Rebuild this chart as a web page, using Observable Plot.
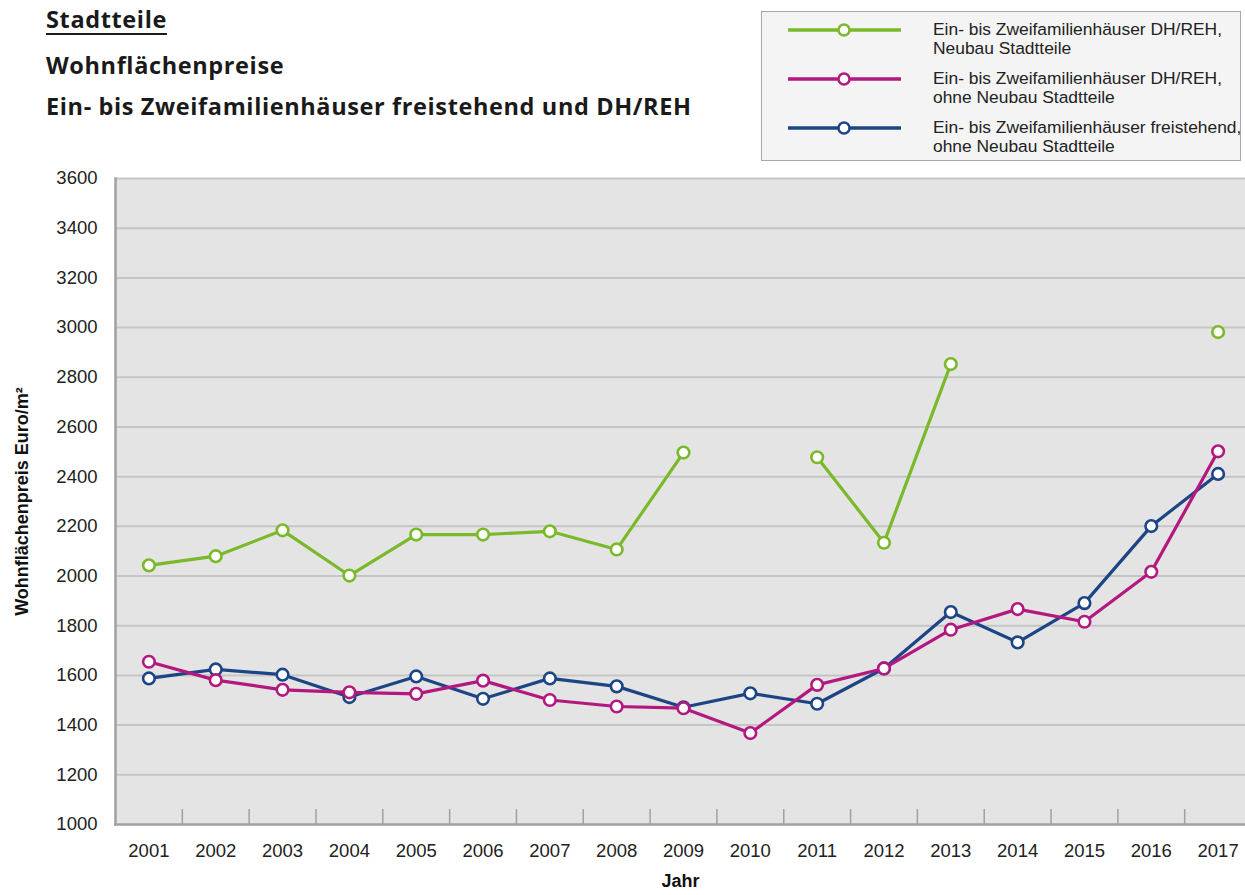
<!DOCTYPE html>
<html>
<head>
<meta charset="utf-8">
<script src="https://cdn.jsdelivr.net/npm/d3@7"></script>
<script src="https://cdn.jsdelivr.net/npm/@observablehq/plot@0.6"></script>
<style>
  body { margin: 0; background: #fff; }
  #wrap { position: relative; width: 1245px; height: 895px; overflow: hidden; }
  .title { position: absolute; left: 46px; font-family: "Open Sans", Lato, sans-serif; font-weight: 700; font-size: 23.5px; color: #1a1a1a; letter-spacing: 0.62px; white-space: nowrap; line-height: 30px; }
  #t1 { top: 4px; text-decoration: underline; text-underline-offset: 5px; text-decoration-thickness: 1.5px; }
  #t2 { top: 50px; }
  #t3 { top: 91px; }
  #legend { position: absolute; left: 761px; top: 11px; width: 478px; height: 148px; background: #f4f4f4; border: 1.5px solid #a8a8a8; font-family: "Liberation Sans", Arial, sans-serif; font-size: 17.4px; color: #222; }
  .item { position: absolute; left: 0; }
  .item svg { position: absolute; left: 26px; top: 1px; }
  .item .lab { position: absolute; left: 171px; top: 0; line-height: 19px; white-space: nowrap; }
  #chart { position: absolute; left: 0; top: 165px; }
</style>
</head>
<body>
<div id="wrap">
  <div class="title" id="t1">Stadtteile</div>
  <div class="title" id="t2">Wohnflächenpreise</div>
  <div class="title" id="t3">Ein- bis Zweifamilienhäuser freistehend und DH/REH</div>
  <div id="legend"></div>
  <div id="chart"></div>
</div>
<script>
const years = [2001, 2002, 2003, 2004, 2005, 2006, 2007, 2008, 2009, 2010, 2011, 2012, 2013, 2014, 2015, 2016, 2017];
const neubauDH = [2043, 2080, 2184, 2002, 2167, 2167, 2180, 2107, 2497, null, 2478, 2134, 2853, null, null, null, 2982];
const ohneNeubauDH = [1655, 1581, 1542, 1532, 1526, 1579, 1501, 1475, 1468, 1368, 1562, 1628, 1784, 1867, 1816, 2017, 2502];
const freistehend = [1588, 1624, 1603, 1513, 1596, 1506, 1588, 1556, 1472, 1528, 1486, 1628, 1855, 1733, 1891, 2201, 2411];
const seriesNames = [
  "Ein- bis Zweifamilienhäuser DH/REH,\nNeubau Stadtteile",
  "Ein- bis Zweifamilienhäuser DH/REH,\nohne Neubau Stadtteile",
  "Ein- bis Zweifamilienhäuser freistehend,\nohne Neubau Stadtteile"
];
const seriesColors = ["#7ab929", "#b3187f", "#1d4586"];
const yTicks = [1000, 1200, 1400, 1600, 1800, 2000, 2200, 2400, 2600, 2800, 3000, 3200, 3400, 3600];
const yTitle = "Wohnflächenpreis Euro/m²";
const xTitle = "Jahr";

const valueLists = [neubauDH, ohneNeubauDH, freistehend];
const data = [];
valueLists.forEach((vals, i) => years.forEach((yr, j) => data.push({year: yr, value: vals[j] == null ? undefined : vals[j], series: seriesNames[i]})));
const boundaries = years.slice(1).map(y => y - 0.5);

// legend
const legend = document.getElementById("legend");
seriesNames.forEach((name, i) => {
  const it = document.createElement("div");
  it.className = "item";
  it.style.top = (8 + i * 49) + "px";
  it.innerHTML = `<svg width="114" height="20"><line x1="0" y1="9" x2="113" y2="9" stroke="${seriesColors[i]}" stroke-width="3.5"/><circle cx="56" cy="9" r="5.5" fill="#fff" stroke="${seriesColors[i]}" stroke-width="2.5"/></svg><div class="lab">${name.replace("\n", "<br>")}</div>`;
  legend.appendChild(it);
});

const order = [2, 1, 0];
const marks = [
  Plot.frame({fill: "#e4e4e4", stroke: null}),
  Plot.gridY(yTicks.slice(1), {stroke: "#c5c5c5", strokeWidth: 2, strokeOpacity: 1}),
  Plot.ruleX(boundaries, {y1: 1000, y2: 1060, stroke: "#a0a0a0", strokeWidth: 1.5}),
  Plot.frame({anchor: "left", stroke: "#a0a0a0", strokeWidth: 2.5}),
  Plot.frame({anchor: "bottom", stroke: "#a0a0a0", strokeWidth: 2.5}),
  Plot.axisY({ticks: yTicks, tickSize: 0, tickPadding: 18, fontSize: 18.5, label: null, tickFormat: d => String(d)}),
  Plot.axisX({ticks: years, tickSize: 0, tickPadding: 19, fontSize: 18.5, label: null, tickFormat: d => String(d)}),
  Plot.text([yTitle], {frameAnchor: "left", rotate: -90, dx: -93, textAnchor: "middle", fontSize: 18, fontWeight: "bold", fill: "#111", letterSpacing: "1.3px"}),
  Plot.text([xTitle], {frameAnchor: "bottom", dy: 62, fontSize: 18, fontWeight: "bold", fill: "#111", letterSpacing: "0.8px"})
];
order.forEach(i => {
  const sub = data.filter(d => d.series === seriesNames[i]);
  marks.push(Plot.line(sub, {x: "year", y: "value", stroke: seriesColors[i], strokeWidth: 3.2}));
  marks.push(Plot.dot(sub.filter(d => d.value !== undefined), {x: "year", y: "value", r: 5.8, fill: "#fff", stroke: seriesColors[i], strokeWidth: 2.6}));
});

const chart = Plot.plot({
  width: 1245,
  height: 730,
  marginTop: 13,
  marginBottom: 71,
  marginLeft: 115,
  marginRight: 0,
  style: {fontFamily: "'Liberation Sans', Arial, sans-serif", color: "#222", background: "transparent", overflow: "visible"},
  x: {type: "linear", domain: [2000.5, 2017.41]},
  y: {domain: [1000, 3600]},
  marks
});
document.getElementById("chart").appendChild(chart);
</script>
</body>
</html>
